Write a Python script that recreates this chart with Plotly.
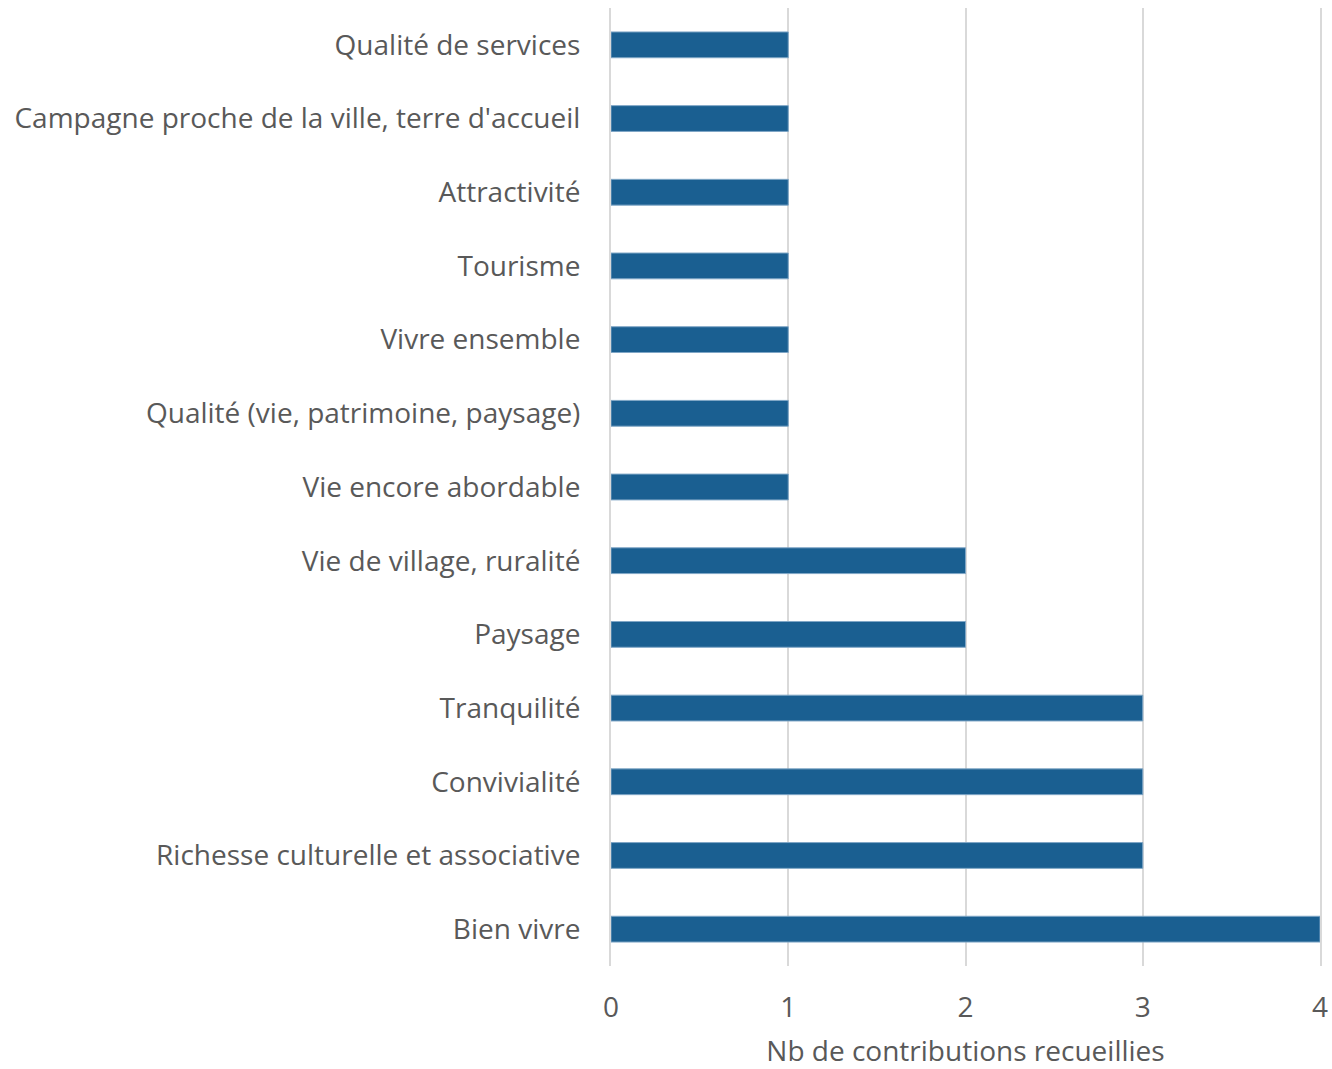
import plotly.graph_objects as go

categories = [
    "Bien vivre",
    "Richesse culturelle et associative",
    "Convivialité",
    "Tranquilité",
    "Paysage",
    "Vie de village, ruralité",
    "Vie encore abordable",
    "Qualité (vie, patrimoine, paysage)",
    "Vivre ensemble",
    "Tourisme",
    "Attractivité",
    "Campagne proche de la ville, terre d'accueil",
    "Qualité de services",
]
values = [4, 3, 3, 3, 2, 2, 1, 1, 1, 1, 1, 1, 1]
x_ticks = [0, 1, 2, 3, 4]
x_title = "Nb de contributions recueillies"

FONT = "Open Sans, sans-serif"
TXT = "#595959"
FS = 28

fig = go.Figure(
    go.Bar(
        x=values,
        y=categories,
        orientation="h",
        marker=dict(color="#1a5f91", line=dict(color="#7fa6c6", width=1)),
    )
)

fig.update_layout(
    width=1332,
    height=1069,
    margin=dict(l=611, r=12, t=8, b=103, autoexpand=False),
    paper_bgcolor="white",
    plot_bgcolor="white",
    bargap=0.65,
    showlegend=False,
    font=dict(family=FONT, color=TXT, size=FS),
)

fig.update_xaxes(
    range=[0, 4],
    tickvals=x_ticks,
    showgrid=True,
    gridcolor="#d9d9d9",
    gridwidth=2,
    zeroline=False,
    showline=False,
    ticks="",
    automargin=False,
    tickfont=dict(size=FS, color=TXT, family=FONT),
    ticklabelstandoff=22,
    title=dict(text=x_title, font=dict(size=FS, color=TXT, family=FONT), standoff=22),
)
fig.update_yaxes(
    categoryorder="array",
    categoryarray=categories,
    showgrid=False,
    zeroline=False,
    showline=True,
    mirror=True,
    linecolor="#d9d9d9",
    linewidth=2,
    ticks="",
    automargin=False,
    tickfont=dict(size=FS, color=TXT, family=FONT),
    ticklabelstandoff=23,
)

fig.write_html(
    "out.html",
    config={"displayModeBar": False},
    post_script="document.body.style.margin='0';document.body.style.overflow='hidden';",
)
